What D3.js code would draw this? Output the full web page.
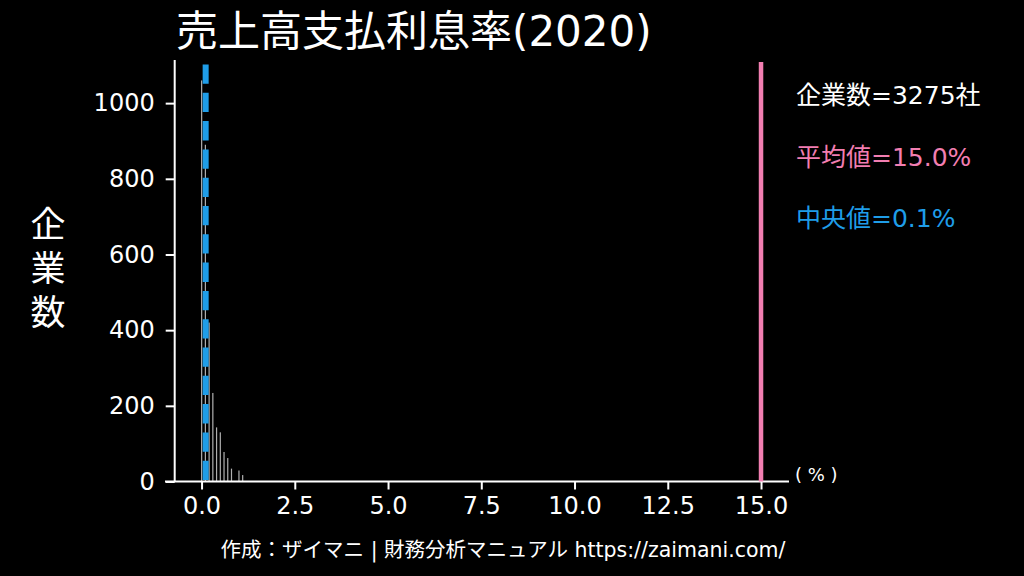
<!DOCTYPE html>
<html>
<head>
<meta charset="utf-8">
<script src="https://cdn.jsdelivr.net/npm/d3@7"></script>
<style>
  html, body { margin: 0; padding: 0; background: #000; }
  svg { display: block; }
  text { font-family: "DejaVu Sans", "Noto Sans CJK JP", sans-serif; fill: #fff; }
</style>
</head>
<body>
<div id="chart"></div>
<script>
// histogram bins (left edge, %) and company counts
var binStarts = [0.0, 0.1, 0.2, 0.3, 0.4, 0.5, 0.6, 0.7, 0.8, 0.9, 1.0, 1.1];
var binCounts = [1060, 890, 420, 234, 143, 130, 78, 62, 34, 0, 29, 17];
var xTicks = [0, 2.5, 5, 7.5, 10, 12.5, 15];
var yTicks = [0, 200, 400, 600, 800, 1000];
var companyCount = 3275;
var meanValue = 15.0;
var medianValue = 0.11;

var titleText = "売上高支払利息率(2020)";
var pink = "#f27eb1";
var blue = "#1f9de8";

var width = 1024, height = 576;

var svg = d3.select("#chart").append("svg")
  .attr("width", width)
  .attr("height", height);

svg.append("rect")
  .attr("width", width)
  .attr("height", height)
  .attr("fill", "#000");

var x = d3.scaleLinear().domain([-0.98, 15.75]).range([165, 789]);
var y = d3.scaleLinear().domain([0, 1114]).range([481.5, 60]);

// title
svg.append("text")
  .attr("x", 176)
  .attr("y", 46)
  .attr("font-size", 42)
  .text(titleText);

// bars (thin, drawn at the left edge of each bin)
svg.selectAll(".bar")
  .data(binStarts)
  .enter()
  .append("rect")
  .attr("class", "bar")
  .attr("x", function(d) { return x(d) - 0.5; })
  .attr("width", 1.2)
  .attr("y", function(d, i) { return y(binCounts[i]); })
  .attr("height", function(d, i) { return y(0) - y(binCounts[i]); })
  .attr("fill", "#b0b0b0");

// x axis
var xAxis = svg.append("g")
  .attr("transform", "translate(0," + y(0) + ")")
  .call(d3.axisBottom(x).tickValues(xTicks).tickSize(8).tickPadding(7)
    .tickFormat(d3.format(".1f")));
xAxis.select(".domain").attr("stroke", "#fff").attr("stroke-width", 2)
  .attr("d", "M" + x.range()[0] + ",0H" + x.range()[1]);
xAxis.selectAll(".tick line").attr("stroke", "#fff").attr("stroke-width", 2);
xAxis.selectAll(".tick text").attr("font-size", 24).attr("fill", "#fff");

// y axis
var yAxis = svg.append("g")
  .attr("transform", "translate(174.7,0)")
  .call(d3.axisLeft(y).tickValues(yTicks).tickSize(9).tickPadding(11)
    .tickFormat(d3.format("d")));
yAxis.select(".domain").attr("stroke", "#fff").attr("stroke-width", 2)
  .attr("d", "M0," + y.range()[1] + "V" + y.range()[0]);
yAxis.selectAll(".tick line").attr("stroke", "#fff").attr("stroke-width", 2);
yAxis.selectAll(".tick text").attr("font-size", 24).attr("fill", "#fff");

// mean line
svg.append("line")
  .attr("x1", x(meanValue)).attr("x2", x(meanValue))
  .attr("y1", 62).attr("y2", y(0))
  .attr("stroke", pink)
  .attr("stroke-width", 4.5);

// median line (dashed)
svg.append("line")
  .attr("x1", x(medianValue)).attr("x2", x(medianValue))
  .attr("y1", 64.5).attr("y2", y(0))
  .attr("stroke", blue)
  .attr("stroke-width", 6)
  .attr("stroke-dasharray", "19.3,9");

// unit label
svg.append("text")
  .attr("x", 795)
  .attr("y", 481)
  .attr("font-size", 18)
  .text("( % )");

// y label, stacked vertically
var yLabel = ["企", "業", "数"];
svg.selectAll(".ylab")
  .data(yLabel)
  .enter()
  .append("text")
  .attr("class", "ylab")
  .attr("x", 48)
  .attr("y", function(d, i) { return 237 + i * 44; })
  .attr("text-anchor", "middle")
  .attr("font-size", 35)
  .text(function(d) { return d; });

// stats
svg.append("text").attr("x", 796).attr("y", 104).attr("font-size", 25)
  .text("企業数=" + companyCount + "社");
svg.append("text").attr("x", 796).attr("y", 166).attr("font-size", 25)
  .style("fill", pink)
  .text("平均値=" + meanValue.toFixed(1) + "%");
svg.append("text").attr("x", 796).attr("y", 227).attr("font-size", 25)
  .style("fill", blue)
  .text("中央値=" + d3.format(".1f")(medianValue) + "%");

// footer
svg.append("text")
  .attr("x", 503)
  .attr("y", 557)
  .attr("text-anchor", "middle")
  .attr("font-size", 20.5)
  .text("作成：ザイマニ | 財務分析マニュアル https://zaimani.com/");
</script>
</body>
</html>
